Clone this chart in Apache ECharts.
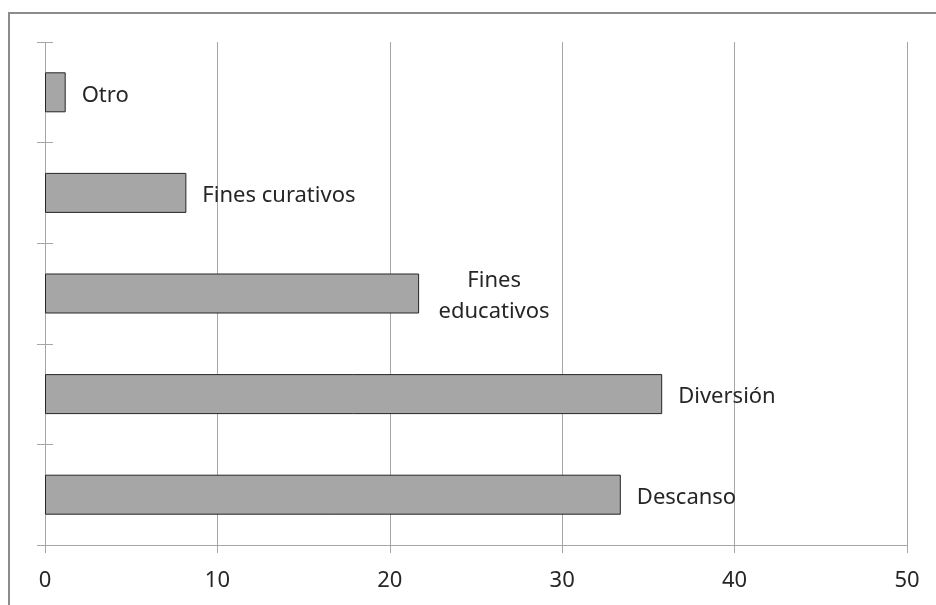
<!DOCTYPE html>
<html>
<head>
<meta charset="utf-8">
<script src="https://cdn.jsdelivr.net/npm/echarts@6/dist/echarts.min.js"></script>
<style>
  html, body { margin: 0; padding: 0; background: #ffffff; }
  #chart { width: 936px; height: 605px; }
</style>
</head>
<body>
<div id="chart"></div>
<script>
// Motivos (bottom to top on the category axis)
const categories = ['Descanso', 'Diversión', 'Fines educativos', 'Fines curativos', 'Otro'];
const values = [33.4, 35.8, 21.7, 8.2, 1.2];
// Label text shown beside each bar
const barLabels = ['Descanso', 'Diversión', 'Fines\neducativos', 'Fines curativos', 'Otro'];
const xTicks = [0, 10, 20, 30, 40, 50];

const FONT = 'Noto Sans';
const GRID_GRAY = '#a6a6a6';
const TEXT = '#262626';

const chart = echarts.init(document.getElementById('chart'), null, { renderer: 'canvas' });

const barData = values.map((v, i) => {
  const multi = barLabels[i].indexOf('\n') >= 0;
  return {
    value: v,
    label: multi ? {
      formatter: barLabels[i].split('\n').map(s => '{c|' + s + '}').join('\n'),
      rich: { c: { width: 118, align: 'center', fontSize: 22, lineHeight: 31, fontFamily: FONT, color: TEXT } }
    } : { formatter: barLabels[i] }
  };
});

chart.setOption({
  animation: false,
  backgroundColor: '#ffffff',
  graphic: [{
    type: 'rect',
    shape: { x: 9, y: 13, width: 1000, height: 1000 },
    style: { fill: 'none', stroke: '#8c8c8c', lineWidth: 2 },
    silent: true
  }],
  grid: { left: 45, right: 29, top: 42, bottom: 60, containLabel: false },
  xAxis: {
    type: 'value',
    min: 0,
    max: 50,
    interval: 10,
    axisLine: { show: true, lineStyle: { color: GRID_GRAY, width: 1 } },
    axisTick: { show: true, length: 8, lineStyle: { color: GRID_GRAY, width: 1 } },
    // the split line at 0 doubles as the vertical axis line
    splitLine: { show: true, showMinLine: true, showMaxLine: true, lineStyle: { color: GRID_GRAY, width: 1 } },
    axisLabel: {
      color: TEXT, fontFamily: FONT, fontSize: 22, margin: 25,
      formatter: v => (xTicks.indexOf(v) >= 0 ? String(v) : '')
    }
  },
  yAxis: {
    type: 'category',
    data: categories,
    position: 'left',
    // moved 8px left, with 16px inward ticks that cross the line at 0
    offset: 8,
    axisLabel: { show: false },
    splitLine: { show: false },
    axisLine: { show: false, onZero: false },
    axisTick: { show: true, length: 16, inside: true, lineStyle: { color: GRID_GRAY, width: 1 } }
  },
  series: [{
    type: 'bar',
    data: barData,
    barWidth: 40,
    itemStyle: { color: '#a6a6a6', borderColor: TEXT, borderWidth: 1 },
    label: {
      show: true,
      position: 'right',
      distance: 16,
      offset: [0, 3],
      color: TEXT,
      fontFamily: FONT,
      fontSize: 22
    }
  }]
});
</script>
</body>
</html>
